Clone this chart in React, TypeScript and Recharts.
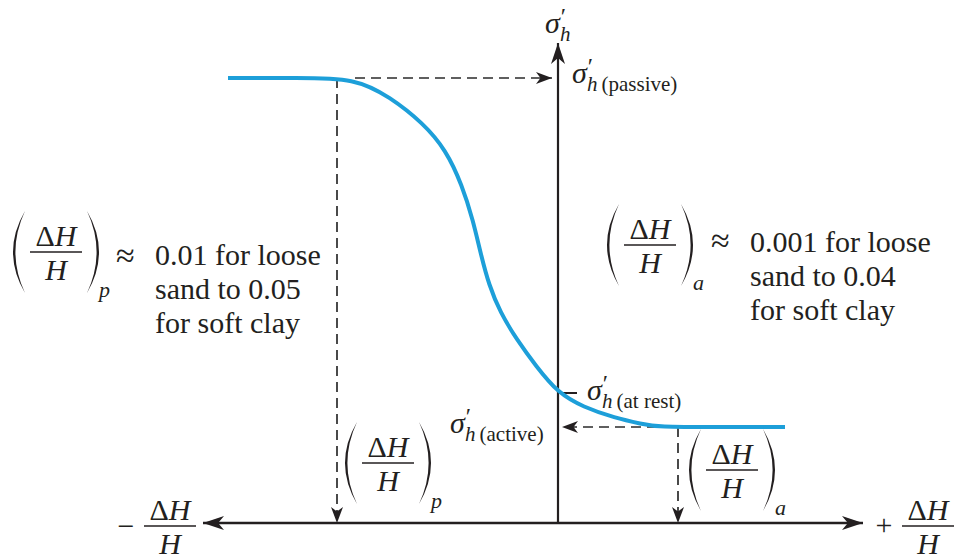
import React from "react"
import { ComposedChart, Line, Scatter, XAxis, YAxis, ReferenceDot } from "recharts"

// wall movement (x) against horizontal effective stress (y), origin where the axes cross
const curveX = [-330, -260, -203, -168, -135, -112, -96, -85, -77, -69, -58, -41, -22, 0, 25, 57, 84, 99, 160, 227]
const curveY = [445, 445, 445, 426, 400, 373, 338, 303, 268, 238, 211, 183, 157, 130, 116, 105, 99, 96, 96, 96]

const passiveStress = 445
const atRestStress = 130
const activeStress = 96
const passiveStrain = -221
const activeStrain = 120
const passiveCurveStart = -203
const activeCurveEnd = 99

const axisLeft = -355
const axisRight = 305
const axisTop = 480

const notePLines = ["0.01 for loose", "sand to 0.05", "for soft clay"]
const noteALines = ["0.001 for loose", "sand to 0.04", "for soft clay"]

const curve = curveX.map((x, i) => ({ x, y: curveY[i] }))

const hAxis = [{ x: axisLeft, y: 0 }, { x: axisRight, y: 0 }]
const vAxis = [{ x: 0, y: 0 }, { x: 0, y: axisTop }]
const atRestTick = [{ x: 0, y: atRestStress }, { x: 19, y: atRestStress }]

const passiveH = [{ x: passiveCurveStart, y: passiveStress }, { x: -6, y: passiveStress }]
const passiveV = [{ x: passiveStrain, y: passiveStress }, { x: passiveStrain, y: 0 }]
const activeH = [{ x: activeCurveEnd, y: activeStress }, { x: 4, y: activeStress }]
const activeV = [{ x: activeStrain, y: activeStress }, { x: activeStrain, y: 0 }]

const arrows = [
    { x: axisLeft, y: 0, dir: 180, big: true },
    { x: axisRight, y: 0, dir: 0, big: true },
    { x: 0, y: axisTop, dir: -90, big: true },
    { x: -6, y: passiveStress, dir: 0, big: false },
    { x: passiveStrain, y: 0, dir: 90, big: false },
    { x: 4, y: activeStress, dir: 180, big: false },
    { x: activeStrain, y: 0, dir: 90, big: false },
]

const ink = "#231f20"
const blue = "#1d9fd9"
const FONT = "Liberation Serif"

const Arrow = (props: any) => {
    const { cx, cy, payload } = props
    const L = payload.big ? 21 : 16
    const w = payload.big ? 7 : 6
    return (
        <path
            d={`M0,0 L${-L},${-w} L${-L * 0.72},0 L${-L},${w} Z`}
            transform={`translate(${cx},${cy}) rotate(${payload.dir})`}
            fill={ink}
        />
    )
}

function T(props: any) {
    const { italic, size, children, ...rest } = props
    return (
        <text
            {...rest}
            fontFamily={FONT}
            fontSize={size}
            fontStyle={italic ? "italic" : "normal"}
            fill={ink}
            style={{ fontFamily: FONT, fontSize: size, fontStyle: italic ? "italic" : "normal" }}
        >
            {children}
        </text>
    )
}

function Paren({ x, dir }: { x: number; dir: number }) {
    const y0 = -41
    const y1 = 41
    const b = 12
    const t = 2.4
    return (
        <path
            d={`M${x},${y0} Q${x + dir * 2 * b},0 ${x},${y1} Q${x + dir * (2 * b - 2 * t)},0 ${x},${y0} Z`}
            fill={ink}
        />
    )
}

function Frac({ parens, sub }: { parens?: boolean; sub?: string }) {
    return (
        <g>
            <T x={0} y={-6} size={30} textAnchor="middle">
                <tspan>Δ</tspan>
                <tspan style={{ fontStyle: "italic" }}>H</tspan>
            </T>
            <line x1={-26} x2={26} y1={0} y2={0} stroke={ink} strokeWidth={1.5} />
            <T x={0} y={28} size={30} italic textAnchor="middle">H</T>
            {parens && <Paren x={-31} dir={-1} />}
            {parens && <Paren x={31} dir={1} />}
            {sub && <T x={43} y={45} size={22} italic>{sub}</T>}
        </g>
    )
}

// σ′h with an optional subscript note, kept in one text element
function Sigma({ suffix }: { suffix?: string }) {
    return (
        <T x={0} y={0} size={30}>
            <tspan style={{ fontStyle: "italic" }}>σ</tspan>
            <tspan dx={1} dy={-9} style={{ fontSize: 24 }}>′</tspan>
            <tspan dx={-6} dy={17} style={{ fontSize: 21, fontStyle: "italic" }}>h</tspan>
            {suffix && <tspan dx={4} style={{ fontSize: 21 }}>{suffix}</tspan>}
        </T>
    )
}

function Note({ lines }: { lines: string[] }) {
    return (
        <g>
            {lines.map((l, i) => (
                <T key={i} x={0} y={i * 34} size={30}>{l}</T>
            ))}
        </g>
    )
}

const place = (node: React.ReactNode) => (p: any) => (
    <g transform={`translate(${p.cx},${p.cy})`}>{node}</g>
)

const dash = { stroke: "#2b2b2b", strokeWidth: 1.7, strokeDasharray: "10 6" }

export default function App() {
    return (
        <div style={{ position: "absolute", left: 0, top: 0, background: "#fff", fontFamily: FONT }}>
            <ComposedChart width={955} height={559} margin={{ top: 0, right: 0, bottom: 0, left: 0 }}>
                <XAxis type="number" dataKey="x" domain={[-558, 397]} allowDataOverflow hide />
                <YAxis type="number" dataKey="y" domain={[-36, 523]} allowDataOverflow hide />

                <Line data={hAxis} dataKey="y" stroke={ink} strokeWidth={2.4} dot={false} activeDot={false} isAnimationActive={false} />
                <Line data={vAxis} dataKey="y" stroke={ink} strokeWidth={2.2} dot={false} activeDot={false} isAnimationActive={false} />
                <Line data={atRestTick} dataKey="y" stroke={ink} strokeWidth={2} dot={false} activeDot={false} isAnimationActive={false} />

                <Line data={passiveH} dataKey="y" {...dash} dot={false} activeDot={false} isAnimationActive={false} />
                <Line data={passiveV} dataKey="y" {...dash} dot={false} activeDot={false} isAnimationActive={false} />
                <Line data={activeH} dataKey="y" {...dash} dot={false} activeDot={false} isAnimationActive={false} />
                <Line data={activeV} dataKey="y" {...dash} dot={false} activeDot={false} isAnimationActive={false} />

                <Line data={curve} dataKey="y" type="basis" stroke={blue} strokeWidth={4} dot={false} activeDot={false} isAnimationActive={false} />

                <Scatter data={arrows} dataKey="y" shape={Arrow} isAnimationActive={false} />

                <ReferenceDot x={-13} y={490} r={0} shape={place(<Sigma />)} />
                <ReferenceDot x={14} y={440} r={0} shape={place(<Sigma suffix="(passive)" />)} />
                <ReferenceDot x={29} y={123} r={0} shape={place(<Sigma suffix="(at rest)" />)} />
                <ReferenceDot x={-108} y={90} r={0} shape={place(<Sigma suffix="(active)" />)} />

                <ReferenceDot x={-502} y={271} r={0} shape={place(<Frac parens sub="p" />)} />
                <ReferenceDot x={-442} y={256} r={0} shape={place(<T size={34}>≈</T>)} />
                <ReferenceDot x={-403} y={258} r={0} shape={place(<Note lines={notePLines} />)} />

                <ReferenceDot x={92} y={278} r={0} shape={place(<Frac parens sub="a" />)} />
                <ReferenceDot x={153} y={271} r={0} shape={place(<T size={34}>≈</T>)} />
                <ReferenceDot x={192} y={271} r={0} shape={place(<Note lines={noteALines} />)} />

                <ReferenceDot x={-170} y={60} r={0} shape={place(<Frac parens sub="p" />)} />
                <ReferenceDot x={174} y={53} r={0} shape={place(<Frac parens sub="a" />)} />

                <ReferenceDot x={-432} y={-3} r={0} shape={place(<T size={30} textAnchor="middle" y={10}>−</T>)} />
                <ReferenceDot x={-388} y={-3} r={0} shape={place(<Frac />)} />
                <ReferenceDot x={326} y={-2} r={0} shape={place(<T size={30} textAnchor="middle" y={10}>+</T>)} />
                <ReferenceDot x={370} y={-3} r={0} shape={place(<Frac />)} />
            </ComposedChart>
        </div>
    )
}
